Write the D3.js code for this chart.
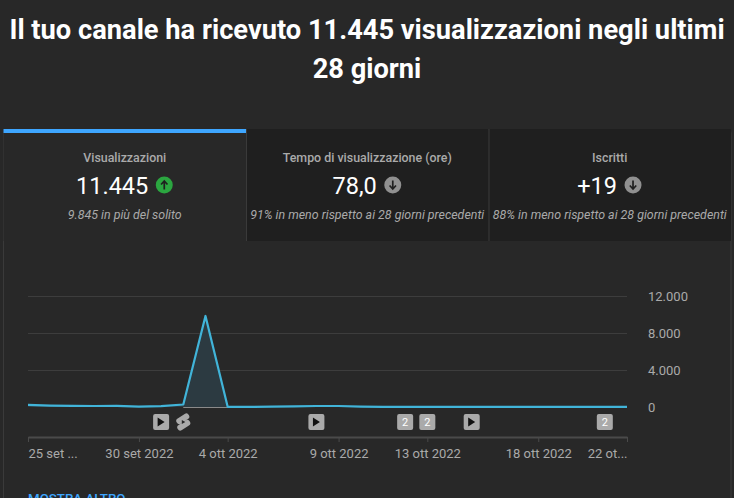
<!DOCTYPE html>
<html><head><meta charset="utf-8">
<script src="https://cdnjs.cloudflare.com/ajax/libs/d3/7.8.5/d3.min.js"></script>
<style>html,body{margin:0;padding:0;background:#282828;overflow:hidden}svg{display:block}text{font-family:Roboto,sans-serif}</style>
</head><body><div id="c"></div>
<script>
const titleLines=["Il tuo canale ha ricevuto 11.445 visualizzazioni negli ultimi","28 giorni"];
const tabTitles=["Visualizzazioni","Tempo di visualizzazione (ore)","Iscritti"];
const tabValues=["11.445","78,0","+19"];
const tabNotes=["9.845 in più del solito","91% in meno rispetto ai 28 giorni precedenti","88% in meno rispetto ai 28 giorni precedenti"];
const tabTrend=["up","down","down"];
const dayIndex=d3.range(28);
const views=[220,150,120,110,120,30,100,270,9840,20,20,30,60,110,110,40,20,10,10,10,10,10,10,10,10,10,10,10];
const yTicks=[0,4000,8000,12000];
const yTickLabels=["0","4.000","8.000","12.000"];
const xTicks=[0,5,9,14,18,23,27];
const xTickLabels=["25 set ...","30 set 2022","4 ott 2022","9 ott 2022","13 ott 2022","18 ott 2022","22 ot..."];
const markerDays=[6,7,13,17,18,20,26];
const markerKinds=["play","short","play","2","2","play","2"];

const svg=d3.select("#c").append("svg").attr("width",734).attr("height",498);
const font="Roboto,sans-serif";
svg.selectAll("text.title").data(titleLines).join("text").attr("class","title")
 .attr("x",367).attr("y",(d,i)=>39+i*39).attr("text-anchor","middle").attr("fill","#fff")
 .attr("font-size",27.25).attr("font-weight",700).text(d=>d);

// panel
const tabX=d3.scaleLinear().domain([0,3]).range([3.5,731]);
const tw=tabX(1)-tabX(0);
svg.append("rect").attr("x",3.5).attr("y",129.5).attr("width",727.5).attr("height",400).attr("rx",3)
 .attr("fill","#282828").attr("stroke","#3a3a3a");
const tabs=svg.selectAll("g.tab").data(tabTitles).join("g").attr("class","tab")
 .attr("transform",(d,i)=>`translate(${tabX(i)},129)`);
tabs.append("rect").attr("width",tw).attr("height",112).attr("fill",(d,i)=>i==0?"#282828":"#1f1f1f");
tabs.filter((d,i)=>i>0).append("line").attr("x1",0.5).attr("x2",0.5).attr("y1",0).attr("y2",112).attr("stroke","#3a3a3a");
tabs.append("text").attr("x",tw/2).attr("y",33).attr("text-anchor","middle").attr("fill","#aaa")
 .attr("font-size",12.4).attr("font-weight",500).text(d=>d);
tabs.each(function(d,i){
  const g=d3.select(this);
  const t=g.append("text").attr("y",65).attr("text-anchor","middle").attr("fill","#fff").attr("font-size",23.5).text(tabValues[i]);
  const w=t.node().getComputedTextLength();
  const cx=tw/2-12.6; t.attr("x",cx);
  const ic=g.append("g").attr("transform",`translate(${cx+w/2+16},56)`);
  ic.append("circle").attr("r",8.5).attr("fill",tabTrend[i]=="up"?"#2ba640":"#909090");
  const dir=tabTrend[i]=="up"?1:-1;
  ic.append("path").attr("d","M0,4.5V-3M-3.2,-0.5L0,-4L3.2,-0.5").attr("transform",`scale(1,${dir})`)
    .attr("stroke","#1f1f1f").attr("stroke-width",1.7).attr("fill","none");
  g.append("text").attr("x",tw/2).attr("y",90).attr("text-anchor","middle").attr("fill","#aaa")
   .attr("font-size",12.4).attr("font-style","italic").text(tabNotes[i]);
});
svg.append("rect").attr("x",3.5).attr("y",129).attr("width",tw).attr("height",4).attr("fill","#3ea6ff");

// chart
const x=d3.scaleLinear().domain([0,27]).range([28,627]);
const y=d3.scaleLinear().domain([0,12000]).range([407,296]);
const gy=svg.append("g").attr("transform","translate(627,0)").call(
  d3.axisRight(y).tickValues(yTicks).tickSize(-599).tickPadding(21).tickFormat((d,i)=>yTickLabels[i]));
gy.select(".domain").remove();
gy.selectAll(".tick line").attr("stroke",d=>d==0?"none":"#3d3d3d");
gy.selectAll("text").attr("fill","#aaa").attr("font-size",13).attr("font-family",font);

svg.append("path").datum(dayIndex).attr("fill","#2c3a41")
 .attr("d",d3.area().x(d=>x(d)).y0(y(0)).y1(d=>y(views[d])));
svg.append("line").attr("x1",x(7)).attr("x2",x(9)).attr("y1",y(0)+.5).attr("y2",y(0)+.5).attr("stroke","#8a8a8a").attr("stroke-width",1);
svg.append("path").datum(dayIndex).attr("fill","none").attr("stroke","#41b4d9").attr("stroke-width",2.2)
 .attr("stroke-linejoin","round")
 .attr("d",d3.line().x(d=>x(d)).y(d=>y(views[d])));

const gx=svg.append("g").attr("transform","translate(0,437)").call(
  d3.axisBottom(x).tickValues(xTicks).tickSize(5).tickSizeOuter(0).tickPadding(7).tickFormat((d,i)=>xTickLabels[i]));
gx.select(".domain").attr("stroke","#4a4a4a").attr("stroke-width",2);
gx.selectAll(".tick line").attr("stroke","#4a4a4a");
gx.selectAll("text").attr("fill","#aaa").attr("font-size",13).attr("font-family",font)
 .attr("text-anchor",(d,i)=>i==0?"start":i==6?"end":"middle");

const mk=svg.selectAll("g.mk").data(markerDays).join("g").attr("class","mk")
 .attr("transform",d=>`translate(${x(d)},422)`);
mk.each(function(d,i){
  const g=d3.select(this),k=markerKinds[i];
  if(k=="short"){
    g.append("path").attr("d","M-4,-1 L3,-5.5 M4,1 L-3,5.5").attr("stroke","#aaa").attr("stroke-width",6).attr("stroke-linecap","round").attr("fill","none");
    g.append("path").attr("d","M-1.5,-2V2L2,0Z").attr("fill","#282828");
    return;
  }
  g.append("rect").attr("x",-8).attr("y",-8).attr("width",16).attr("height",16).attr("rx",2).attr("fill","#aaa");
  if(k=="play") g.append("path").attr("d","M-3.5,-4.5V4.5L3.5,0Z").attr("fill","#111");
  else g.append("text").attr("y",4).attr("text-anchor","middle").attr("fill","#fff").attr("font-size",11).text(k);
});
svg.append("text").attr("x",28).attr("y",503).attr("fill","#3ea6ff").attr("font-size",13.3).attr("font-weight",500).text("MOSTRA ALTRO");
</script></body></html>
